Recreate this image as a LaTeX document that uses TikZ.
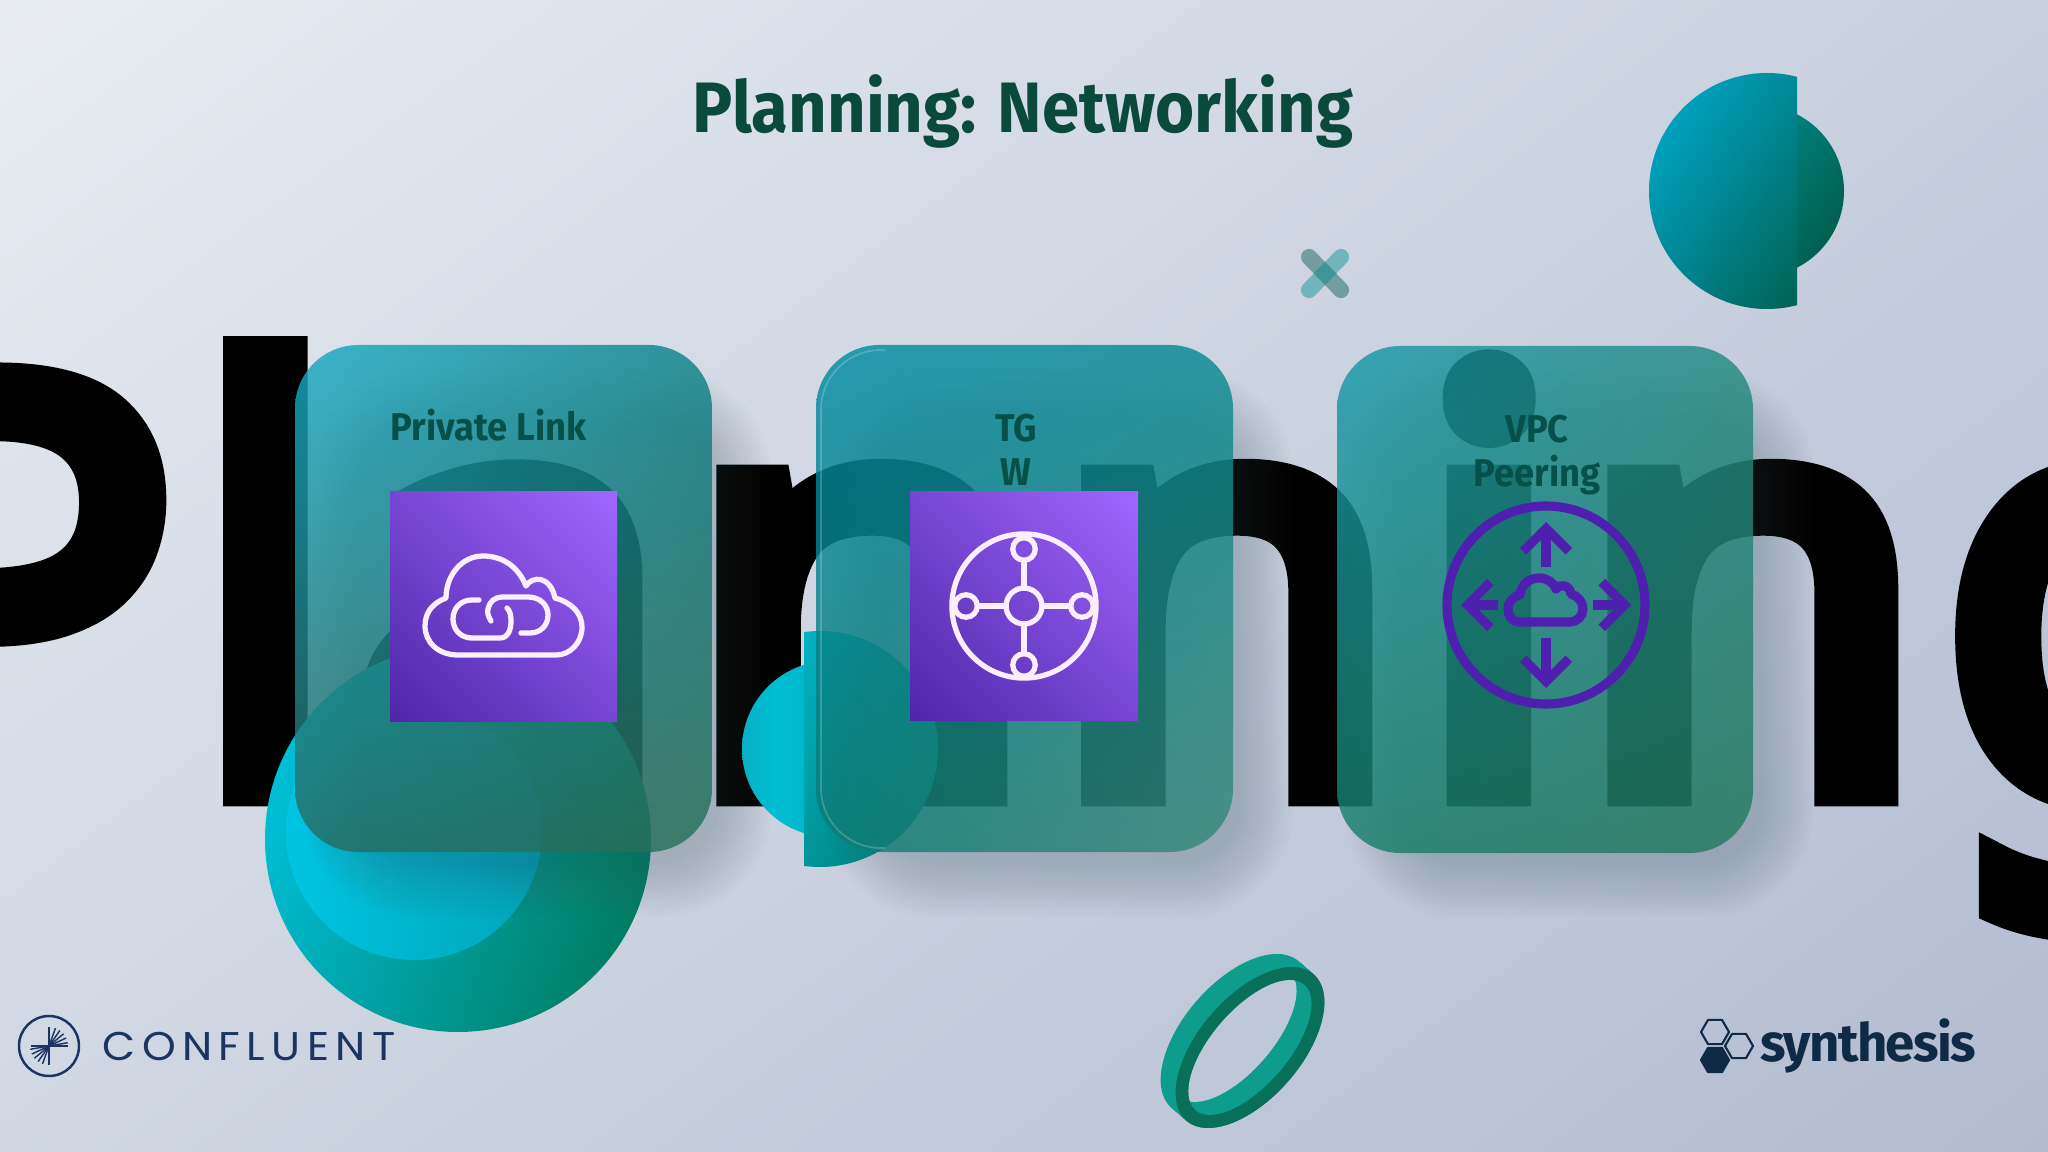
\documentclass[tikz,border=0pt]{standalone}
\usepackage{fontspec}
\usepackage{tikz}
\usetikzlibrary{arrows.meta,shadings}

\newfontfamily\wordfont[FakeStretch=0.94]{Fira Sans}
\newfontfamily\hugefont[FakeStretch=0.99,FakeBold=6,LetterSpace=2.5]{Noto Sans}
\newfontfamily\logofont[LetterSpace=16,FakeStretch=1.07]{Poppins}
\newfontfamily\markfont[LetterSpace=-3]{Fira Sans}

\definecolor{titlegreen}{HTML}{0A4A3A}
\definecolor{labelgreen}{HTML}{06504A}
\definecolor{iconwhite}{HTML}{FBEFFF}
\definecolor{peerpurple}{HTML}{4F1FB0}
\definecolor{logoblue}{HTML}{1B3460}
\definecolor{marknavy}{HTML}{0E2A47}
\definecolor{ringlight}{HTML}{0E9C8C}
\definecolor{ringdark}{HTML}{086F59}
\definecolor{ringhole}{HTML}{BFC8D8}
\definecolor{shadowslate}{HTML}{3A5560}

\tikzset{
  cardface/.style={rounded corners=18pt, opacity=0.82},
  cardlabel/.style={font=\wordfont\bfseries\fontsize{11}{12.5}\selectfont, text=labelgreen, inner sep=0pt, align=center},
  iconsquare/.style={lower left={rgb,255:red,77;green,39;blue,168}, upper right={rgb,255:red,161;green,102;blue,255},
    upper left={rgb,255:red,119;green,70;blue,211}, lower right={rgb,255:red,119;green,70;blue,211}},
  whiteline/.style={draw=iconwhite, line width=1.5pt, line cap=round, line join=round},
  hubdot/.style={circle, draw=iconwhite, line width=1.5pt, inner sep=0pt},
  peerline/.style={draw=peerpurple, line width=2.6pt, line join=round},
  peerarrow/.style={peerline, -{Straight Barb[length=6.5pt, width=13pt]}},
  hexmark/.style={draw=marknavy, line width=0.6pt, line join=round},
}

\begin{document}
\begin{tikzpicture}[x=0.01cm, y=-0.01cm]
  \useasboundingbox (0,0) rectangle (2048,1152);
  % background
  \shade[upper left={rgb,255:red,232;green,236;blue,242}, upper right={rgb,255:red,200;green,208;blue,222},
         lower left={rgb,255:red,208;green,215;blue,226}, lower right={rgb,255:red,178;green,187;blue,208}]
    (0,0) rectangle (2048,1152);

  % huge word behind everything
  \node[anchor=base west, inner sep=0pt, font=\hugefont\fontsize{163}{163}\selectfont] (bigword) at (-166,789) {Planning};

  % title
  \node[anchor=base, inner sep=0pt, text=titlegreen, font=\wordfont\bfseries\fontsize{20.3}{24}\selectfont] (title) at (1023,133) {Planning: Networking};

  % round shapes
  \shade[left color={rgb,255:red,0;green,190;blue,214}, right color={rgb,255:red,0;green,125;blue,100}, shading angle=70] (458,839) circle (193);
  \shade[left color={rgb,255:red,0;green,196;blue,226}, right color={rgb,255:red,0;green,165;blue,185}] (414,832) circle (128);

  \begin{scope}
    \clip (1600,0) rectangle (1797,400);
    \shade[left color={rgb,255:red,0;green,160;blue,190}, right color={rgb,255:red,0;green,90;blue,70}, shading angle=55] (1767,191) circle (118);
  \end{scope}
  \begin{scope}
    \clip (1797,0) rectangle (1900,400);
    \shade[left color={rgb,255:red,0;green,150;blue,155}, right color={rgb,255:red,0;green,95;blue,80}, shading angle=55] (1758,191) circle (86);
  \end{scope}

  \begin{scope}
    \clip (804,600) rectangle (1000,900);
    \shade[left color={rgb,255:red,0;green,190;blue,214}, right color={rgb,255:red,0;green,130;blue,125}, shading angle=60] (820,749) circle (118);
  \end{scope}
  \begin{scope}
    \clip (700,600) rectangle (804,900);
    \shade[left color={rgb,255:red,0;green,196;blue,220}, right color={rgb,255:red,0;green,160;blue,175}] (830,749) circle (88);
  \end{scope}

  % small cross
  \draw[line width=4.6pt, line cap=round, color=titlegreen!70!teal, opacity=0.45] (1309,257) -- (1341,290);
  \draw[line width=4.6pt, line cap=round, color=teal!90!cyan, opacity=0.45] (1341,257) -- (1309,290);

  % ring
  \foreach \k in {0,...,15} {
    \fill[ringlight] (1250-\k,1047.5-\k*0.87) ellipse [x radius=97, y radius=51, rotate=49];
  }
  \fill[ringdark] (1250,1047.5) ellipse [x radius=97, y radius=51, rotate=49];
  \fill[ringlight] (1250,1047.5) ellipse [x radius=83, y radius=38, rotate=49];
  \begin{scope}
    \clip (1250,1047.5) ellipse [x radius=83, y radius=38, rotate=49];
    \fill[ringhole] (1235,1034.5) ellipse [x radius=83, y radius=38, rotate=49];
  \end{scope}

  % card shadows
  \foreach \cardx in {295,816,1337} {
    \foreach \s in {0,...,13} {
      \fill[shadowslate, opacity=0.02, rounded corners=18pt+\s*1pt]
        (\cardx+60-\s*4, 420-\s*4) rectangle (\cardx+425+\s*4, 865+\s*4);
    }
  }

  % cards
  \shade[cardface, upper left={rgb,255:red,23;green,171;blue,196}, upper right={rgb,255:red,10;green,127;blue,135},
         lower left={rgb,255:red,40;green,107;blue,99}, lower right={rgb,255:red,40;green,112;blue,88}]
    (295,345) rectangle (712,852);
  \shade[cardface, upper left={rgb,255:red,0;green,139;blue,163}, upper right={rgb,255:red,7;green,137;blue,146},
         lower left={rgb,255:red,11;green,124;blue,116}, lower right={rgb,255:red,55;green,137;blue,120}]
    (816,345) rectangle (1233,852);
  \shade[cardface, upper left={rgb,255:red,23;green,152;blue,170}, upper right={rgb,255:red,34;green,137;blue,128},
         lower left={rgb,255:red,23;green,127;blue,105}, lower right={rgb,255:red,33;green,123;blue,94}]
    (1337,346) rectangle (1753,853);
  \draw[white, opacity=0.2, line width=0.5pt, rounded corners=17pt] (885,350) -- (821,350) -- (821,848) -- (885,848);

  % purple squares
  \shade[iconsquare] (390,492) rectangle (617,721);
  \shade[iconsquare] (910,492) rectangle (1138,720);

  % private link icon
  \draw[whiteline] (458,655) .. controls (438,655) and (425,642) .. (425,626)
    .. controls (425,612) and (433,603) .. (446,598)
    .. controls (446,575) and (462,556) .. (483,556)
    .. controls (502,556) and (518,566) .. (526,586)
    .. controls (532,576) and (550,575) .. (555,598)
    .. controls (570,602) and (582,612) .. (582,627)
    .. controls (582,643) and (570,655) .. (556,655) -- cycle;
  \draw[whiteline] (479,600) -- (472,600) .. controls (461,600) and (453,608) .. (453,619)
    .. controls (453,630) and (461,638) .. (472,638) -- (500,638)
    .. controls (508,638) and (511,630) .. (511,621) .. controls (511,615) and (510,611) .. (507,608);
  \draw[whiteline] (491,621) .. controls (488,616) and (487,612) .. (488,609)
    .. controls (489,602) and (495,597) .. (502,597) -- (528,597)
    .. controls (540,597) and (548,605) .. (548,615) .. controls (548,626) and (540,633) .. (530,633) -- (521,633);

  % transit gateway icon
  \node[hubdot, minimum size=10.2pt] (hub) at (1024,606) {};
  \node[hubdot, minimum size=6.4pt] (hubtop) at (1024,549) {};
  \node[hubdot, minimum size=6.4pt] (hubbottom) at (1024,665) {};
  \node[hubdot, minimum size=6.4pt] (hubleft) at (966,606) {};
  \node[hubdot, minimum size=6.4pt] (hubright) at (1082,606) {};
  \node[hubdot, minimum size=41pt] (hubring) at (1024,606) {};
  \foreach \spoke in {hubtop,hubbottom,hubleft,hubright} {
    \draw[whiteline] (hub) -- (\spoke);
  }

  % vpc peering icon
  \draw[peerline] (1546,605) circle (99);
  \draw[peerarrow] (1546,567) -- (1546,522);
  \draw[peerarrow] (1546,638) -- (1546,688);
  \draw[peerarrow] (1593,605) -- (1631,605);
  \draw[peerarrow] (1498,605) -- (1461,605);
  \draw[peerline] (1520,622) .. controls (1511,622) and (1508,615) .. (1508,609)
    .. controls (1508,601) and (1514,596) .. (1520,595)
    .. controls (1521,584) and (1530,578) .. (1539,578)
    .. controls (1547,578) and (1553,582) .. (1556,589)
    .. controls (1560,583) and (1570,585) .. (1571,594)
    .. controls (1578,596) and (1583,602) .. (1583,609)
    .. controls (1583,616) and (1577,622) .. (1570,622) -- cycle;

  % card labels
  \node[cardlabel, anchor=base west] (privatelabel) at (390,441) {Private Link};
  \node[cardlabel] (tgwlabel) at (1016,450) {TG\\W};
  \node[cardlabel] (vpclabel) at (1537,455) {VPC\\Peering};

  % confluent logo
  \draw[logoblue, line width=0.7pt] (49,1046) circle (30);
  \draw[logoblue, line width=0.5pt] (31,1046) -- (68,1046) (49,1027) -- (49,1065);
  \foreach \ang in {110,125,140,155,170} {
    \draw[logoblue, line width=0.4pt] (49,1046) -- ++(\ang:19);
    \draw[logoblue, line width=0.4pt] (49,1046) -- ++(\ang+180:19);
  }
  \node[anchor=base west, inner sep=0pt, text=logoblue, font=\logofont\fontsize{11.4}{14}\selectfont] (confluent) at (102,1060) {CONFLUENT};

  % synthesis logo
  \draw[hexmark] (1715,1032) +(0:14) -- +(60:14) -- +(120:14) -- +(180:14) -- +(240:14) -- +(300:14) -- cycle;
  \draw[hexmark] (1739,1046) +(0:14) -- +(60:14) -- +(120:14) -- +(180:14) -- +(240:14) -- +(300:14) -- cycle;
  \filldraw[hexmark, fill=marknavy] (1715,1060) +(0:14) -- +(60:14) -- +(120:14) -- +(180:14) -- +(240:14) -- +(300:14) -- cycle;
  \node[anchor=base west, inner sep=0pt, text=marknavy, font=\markfont\bfseries\fontsize{15}{18}\selectfont] (synthesis) at (1760,1061) {synthesis};
\end{tikzpicture}
\end{document}
